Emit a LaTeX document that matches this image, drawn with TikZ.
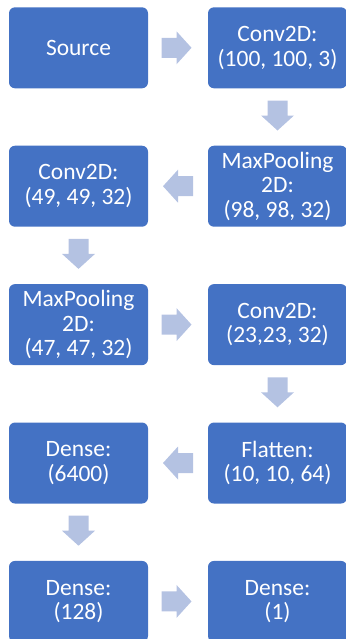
\documentclass[tikz,border=0pt]{standalone}
\usepackage{fontspec}
\setmainfont{Carlito}
\usetikzlibrary{calc}
\definecolor{boxblue}{HTML}{4472C4}
\definecolor{arrowblue}{HTML}{B4C2E2}
\tikzset{
  stagebox/.style={rectangle, rounded corners=4.5pt, fill=boxblue, text=white,
    minimum width=104.25pt, minimum height=60.75pt, inner sep=0pt, align=center,
    font=\fontsize{17.6}{18.4}\selectfont},
  flowarrow/.pic={\fill[arrowblue] (-15,-10) -- (0,-10) -- (0,-16.5) -- (15,0) -- (0,16.5) -- (0,10) -- (-15,10) -- cycle;}
}
\begin{document}
\begin{tikzpicture}[x=0.75pt,y=-0.75pt]
\useasboundingbox (0,0) rectangle (346,639);
\clip (0,0) rectangle (346,639);
\node[stagebox] (src)  at (78.5,47.8)  {Source};
\node[stagebox] (c1)   at (277.5,47.8) {Conv2D:\\(100, 100, 3)};
\node[stagebox] (mp1)  at (277.5,186.2) {MaxPooling\\2D:\\(98, 98, 32)};
\node[stagebox] (c2)   at (78.5,186.2) {Conv2D:\\(49, 49, 32)};
\node[stagebox] (mp2)  at (78.5,324.6) {MaxPooling\\2D:\\(47, 47, 32)};
\node[stagebox] (c3)   at (277.5,324.6) {Conv2D:\\(23,23, 32)};
\node[stagebox] (fl)   at (277.5,463) {Flatten:\\(10, 10, 64)};
\node[stagebox] (d1)   at (78.5,463) {Dense:\\(6400)};
\node[stagebox] (d2)   at (78.5,601.4) {Dense:\\(128)};
\node[stagebox] (d3)   at (277.5,601.4) {Dense:\\(1)};
\pic at ($(src.east)!0.5!(c1.west)+(-1.5,0)$) {flowarrow};
\pic[rotate=-90] at ($(c1.south)!0.5!(mp1.north)+(0,-1.5)$) {flowarrow};
\pic[rotate=180] at ($(mp1.west)!0.5!(c2.east)$) {flowarrow};
\pic[rotate=-90] at ($(c2.south)!0.5!(mp2.north)+(0,-1.5)$) {flowarrow};
\pic at ($(mp2.east)!0.5!(c3.west)+(-1.5,0)$) {flowarrow};
\pic[rotate=-90] at ($(c3.south)!0.5!(fl.north)+(0,-1.5)$) {flowarrow};
\pic[rotate=180] at ($(fl.west)!0.5!(d1.east)$) {flowarrow};
\pic[rotate=-90] at ($(d1.south)!0.5!(d2.north)+(0,-1.5)$) {flowarrow};
\pic at ($(d2.east)!0.5!(d3.west)+(-1.5,0)$) {flowarrow};
\end{tikzpicture}
\end{document}
